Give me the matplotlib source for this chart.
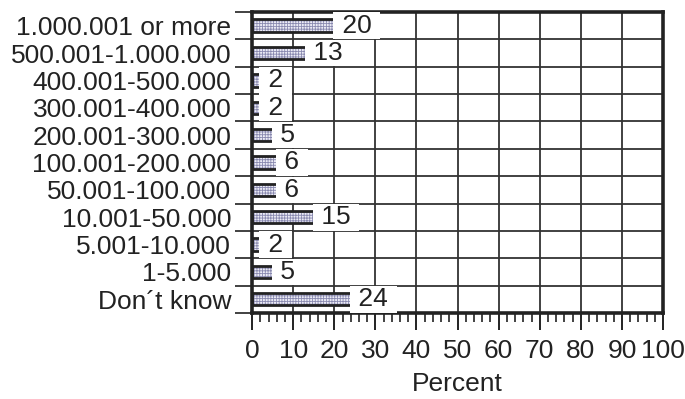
import matplotlib
matplotlib.use('Agg')
import matplotlib.pyplot as plt
import numpy as np

plt.rcParams['font.family'] = ['Liberation Sans', 'DejaVu Sans']
plt.rcParams['hatch.linewidth'] = 0.6

# Data
categories = ['1.000.001 or more', '500.001-1.000.000', '400.001-500.000',
              '300.001-400.000', '200.001-300.000', '100.001-200.000',
              '50.001-100.000', '10.001-50.000', '5.001-10.000', '1-5.000',
              'Don\u00b4t know']
percent = [20, 13, 2, 2, 5, 6, 6, 15, 2, 5, 24]

y = np.arange(len(categories))
fs = 19
dark = '#222222'

fig = plt.figure(figsize=(6.85, 3.99), dpi=100)
ax = fig.add_axes([0.368, 0.2155, 0.600, 0.7545])

# grid
for gx in range(10, 100, 10):
    ax.axvline(gx, color='#333333', lw=1.3, zorder=1)
for gy in np.arange(len(categories) - 1) + 0.5:
    ax.axhline(gy, color='#333333', lw=1.3, zorder=1)

# bars: hatched fill, then dark outline
ax.barh(y, percent, height=0.45, color='#ececf6', edgecolor='#8a8ab0',
        hatch='++++++', linewidth=0, zorder=2)
ax.barh(y, percent, height=0.45, fill=False, edgecolor=dark, linewidth=2, zorder=2.2)

# value labels with white box
for yi, v in zip(y, percent):
    ax.text(v + 0.1, yi, f' {v} ', va='center', ha='left', fontsize=fs, color=dark,
            bbox=dict(facecolor='white', edgecolor='none', pad=1.0),
            zorder=4, clip_on=False)

ax.set_xlim(0, 100)
ax.set_ylim(len(categories) - 0.5, -0.5)

ax.set_xticks(np.arange(0, 101, 10))
ax.set_xticks(np.arange(0, 101, 2), minor=True)
ax.tick_params(axis='x', which='major', length=12, width=1.4, pad=7,
               labelsize=fs, colors=dark)
ax.tick_params(axis='x', which='minor', length=6.5, width=1.2, colors=dark)

# y: ticks at category boundaries, labels at centers
ax.set_yticks(np.arange(len(categories) + 1) - 0.5)
ax.set_yticklabels([])
ax.set_yticks(y, minor=True)
ax.set_yticklabels(categories, minor=True)
ax.tick_params(axis='y', which='major', length=12, width=1.3, colors='#333333')
ax.tick_params(axis='y', which='minor', length=0, pad=15, labelsize=fs,
               labelcolor=dark)

ax.set_xlabel('Percent', fontsize=fs, color=dark, labelpad=6)

for s in ax.spines.values():
    s.set_linewidth(2.6)
    s.set_color(dark)

plt.savefig('out.png', dpi=100)
